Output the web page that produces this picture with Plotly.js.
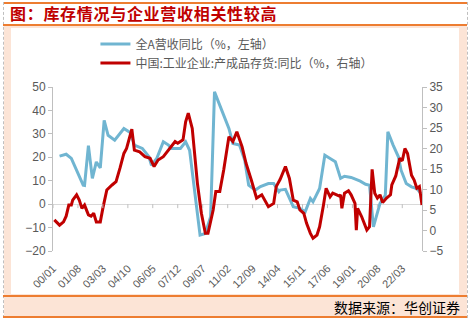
<!DOCTYPE html>
<html><head><meta charset="utf-8">
<script src="https://cdn.plot.ly/plotly-3.0.1.min.js"></script>
<style>
body{margin:0;width:470px;height:321px;position:relative;background:#fff;overflow:hidden;font-family:"Noto Sans CJK SC",sans-serif;}
.abs{position:absolute;}
#plot{position:absolute;left:0;top:0;width:470px;height:321px;}
</style></head><body>
<div class="abs" style="left:3px;top:2px;width:464px;height:2px;background:#ed7d31"></div>
<div class="abs" style="left:3px;top:2px;width:0;height:316px;border-left:1px dashed #bfbfbf"></div>
<div class="abs" style="left:467px;top:2px;width:0;height:316px;border-left:1px dashed #bfbfbf"></div>
<div class="abs" style="left:4px;top:26px;width:463px;height:291px;background:#fce4d6"></div>
<div class="abs" style="left:3px;top:24px;width:464px;height:2px;background:#ed7d31"></div>
<div class="abs" style="left:11px;top:28px;width:448px;height:266px;background:#fff"></div>
<div class="abs" style="left:3px;top:295px;width:464px;height:2px;background:#ed7d31"></div>
<div class="abs" style="left:3px;top:316px;width:464px;height:2px;background:#ed7d31"></div>
<div class="abs" style="left:10px;top:3px;font-size:16px;font-weight:bold;color:#c00000;line-height:21px;letter-spacing:0.7px">图：库存情况与企业营收相关性较高</div>
<div class="abs" style="right:10px;top:297px;font-size:14px;color:#000;line-height:20px">数据来源：华创证券</div>
<div id="plot"></div>
<script>
const blueName = "全A营收同比（%，左轴）";
const redName = "中国:工业企业:产成品存货:同比（%，右轴）";
const blueDates = ["2000-06","2000-11","2001-03","2001-12","2002-01","2002-04","2002-07","2002-10","2003-01","2003-04","2003-07","2003-12","2004-07","2004-12","2005-03","2005-09","2006-02","2006-04","2006-08","2007-01","2007-05","2007-07","2008-02","2008-06","2008-09","2009-05","2009-09","2010-01","2010-04","2010-08","2010-12","2011-03","2011-06","2011-11","2012-03","2012-06","2012-11","2013-03","2013-09","2014-01","2014-05","2014-06","2014-10","2014-12","2015-04","2015-09","2016-01","2016-05","2016-07","2016-12","2017-04","2017-08","2017-12","2018-04","2018-07","2018-12","2019-07","2019-11","2020-02","2020-05","2020-07","2020-10","2021-02","2021-04","2021-08","2021-12","2022-02","2022-06","2022-10","2023-02","2023-05"];
const blueVals = [20.5,21.3,19.5,8.1,8.0,25,11,18,15.5,35.8,29.4,27.3,32.3,30.5,25.2,23.8,20.2,16.6,19.5,26.6,25.2,23.8,23.8,26.6,23,-13.2,-12.5,-5.4,47.9,42.3,36.6,32.3,25.9,25.2,18.8,8.1,6.0,7.5,8.8,8.8,5.3,6.0,6.3,3.8,-1.1,-1.8,-3.3,2.4,1.0,6.7,20.9,19.5,18.1,11,11.9,11.4,9.8,8.5,8.1,-9.7,-6.1,0.3,3.8,30.9,25.2,20.2,14.5,8.8,7.4,6.7,4.6];
const redDates = ["2000-02","2000-06","2000-09","2000-11","2001-01","2001-03","2001-04","2001-07","2001-09","2001-11","2002-01","2002-04","2002-06","2002-08","2002-10","2003-01","2003-03","2003-06","2003-10","2004-01","2004-04","2004-07","2004-09","2004-12","2005-01","2005-03","2005-07","2005-11","2006-03","2006-06","2006-09","2007-01","2007-06","2007-10","2007-12","2008-04","2008-06","2008-08","2008-11","2009-03","2009-06","2009-09","2009-11","2010-03","2010-05","2010-08","2010-11","2011-03","2011-06","2011-09","2012-01","2012-04","2012-08","2012-12","2013-04","2013-07","2013-09","2014-01","2014-03","2014-06","2014-10","2015-01","2015-04","2015-07","2015-09","2015-12","2016-02","2016-05","2016-07","2016-10","2016-12","2017-03","2017-05","2017-08","2017-10","2018-01","2018-03","2018-04","2018-05","2018-07","2018-10","2018-12","2019-03","2019-04","2019-05","2019-08","2019-10","2019-12","2020-02","2020-03","2020-04","2020-06","2020-08","2020-10","2020-12","2021-03","2021-06","2021-07","2021-10","2021-11","2022-01","2022-03","2022-05","2022-07","2022-10","2022-12","2023-02","2023-04","2023-06"];
const redVals = [2.6,1.3,2.1,3.5,6.2,6.2,7.4,8.7,7.4,5.4,6.2,3.8,3.5,4.2,2.1,2.1,5.4,9.9,11.1,11.9,15.2,18.8,20,23.5,24.7,19.6,19.2,18,17.6,15.6,17.2,18,20,21.7,21.3,22.1,26.5,28.6,24.9,11.5,4.2,-0.7,-0.7,5,9.5,9.5,14.8,22.9,21.7,24.1,20.4,16.4,12.3,7.9,8.7,7,5.8,6.6,10.7,12.5,15.6,12.7,7.4,7,5,4.2,1.8,-0.7,-1.9,-1.1,0.9,6.2,10.3,8.2,9.1,8.7,8.4,8.7,5.4,9.1,9.7,8.7,6.6,0.1,5.4,3.4,1.8,0.1,0.9,8.2,14.9,9.1,7.9,8.7,6.8,7.9,8.7,11.1,13.3,14.8,17.6,17,20,18.8,13.5,12.3,10.3,10.7,6.2];
const tickDates = ["2000-01","2001-08","2003-03","2004-10","2006-05","2007-12","2009-07","2011-02","2012-09","2014-04","2015-11","2017-06","2019-01","2020-08","2022-03"];
const tickText = ["00/01","01/08","03/03","04/10","06/05","07/12","09/07","11/02","12/09","14/04","15/11","17/06","19/01","20/08","22/03"];

const axisGray = '#bfbfbf';
const tickFont = {family:'Liberation Sans, Arial, sans-serif', size:12, color:'#595959'};
const traces = [
  {x:blueDates, y:blueVals, name:blueName, type:'scatter', mode:'lines', line:{color:'#70b5d1', width:3}, yaxis:'y'},
  {x:redDates, y:redVals, name:redName, type:'scatter', mode:'lines', line:{color:'#c00000', width:3}, yaxis:'y2'}
];
const shapes = tickDates.map(d => ({type:'line', xref:'x', yref:'y', x0:d, x1:d, ysizemode:'pixel', yanchor:0, y0:0, y1:-4, line:{color:axisGray, width:1}}));
const layout = {
  width:470, height:321,
  margin:{l:53, r:48, t:87, b:70},
  paper_bgcolor:'rgba(0,0,0,0)', plot_bgcolor:'rgba(0,0,0,0)',
  showlegend:true,
  legend:{x:0.115, y:1.35, xanchor:'left', yanchor:'top', bgcolor:'rgba(0,0,0,0)', font:{family:'Noto Sans CJK SC', size:12, color:'#595959'}, tracegroupgap:0},
  xaxis:{type:'date', range:['2000-01-01','2023-06-01'], tickvals:tickDates, ticktext:tickText, tickangle:-45, ticks:'', showgrid:false, zeroline:false, showline:false, tickfont:{family:'Liberation Sans, Arial, sans-serif', size:11, color:'#595959'}, ticklabelstandoff:8},
  yaxis:{range:[-20,50], dtick:10, tick0:0, showgrid:false, zeroline:true, zerolinecolor:'#d9d9d9', zerolinewidth:1, showline:true, linecolor:axisGray, linewidth:1, ticks:'outside', ticklen:4, tickcolor:axisGray, tickfont:tickFont},
  yaxis2:{range:[-5,35], dtick:5, tick0:0, overlaying:'y', side:'right', showgrid:false, zeroline:false, showline:true, linecolor:axisGray, linewidth:1, ticks:'outside', ticklen:4, tickcolor:axisGray, tickfont:tickFont},
  shapes:shapes
};
Plotly.newPlot('plot', traces, layout, {displayModeBar:false, staticPlot:true});
</script>
</body></html>
